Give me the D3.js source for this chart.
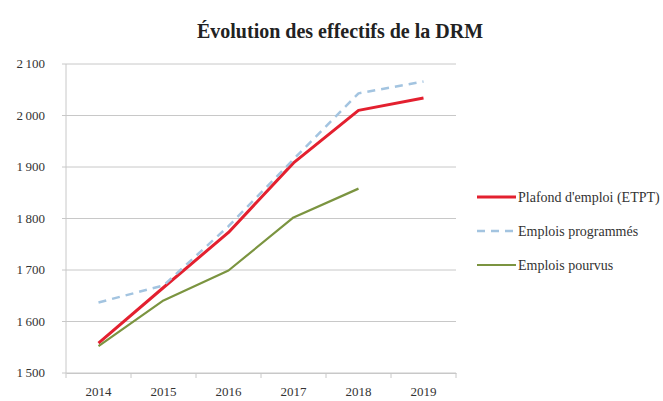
<!doctype html>
<html lang="fr">
<head>
<meta charset="UTF-8">
<title>Évolution des effectifs de la DRM</title>
<script src="https://cdn.jsdelivr.net/npm/d3@7"></script>
<style>
  body { margin: 0; background: #fff; }
</style>
</head>
<body>
<svg width="663" height="401"></svg>
<script>
  // données
  let years = ["2014", "2015", "2016", "2017", "2018", "2019"];
  let plafond = [1558, 1666, 1773, 1908, 2010, 2034];
  let programmes = [1637, 1670, 1785, 1915, 2043, 2066];
  let pourvus = [1552, 1641, 1699, 1802, 1858];
  let yTicks = [1500, 1600, 1700, 1800, 1900, 2000, 2100];

  let series = [
    { name: "Plafond d'emploi (ETPT)", values: plafond, color: "#e3202f", width: 3, dash: null },
    { name: "Emplois programmés", values: programmes, color: "#a3c4e0", width: 2.5, dash: "8,6" },
    { name: "Emplois pourvus", values: pourvus, color: "#7b9440", width: 2.2, dash: null }
  ];

  let font = "'Liberation Serif', 'Times New Roman', serif";
  let grid = { left: 66, right: 456, top: 64, bottom: 373 };
  let svg = d3.select("svg");

  let x = d3.scaleBand().domain(years).range([grid.left, grid.right]);
  let y = d3.scaleLinear().domain([1500, 2100]).range([grid.bottom, grid.top]);
  let fmt = d => d3.format(",")(d).replace(",", "\u2009");

  // titre
  svg.append("text")
    .attr("x", 340).attr("y", 38)
    .attr("text-anchor", "middle")
    .attr("font-family", font)
    .attr("font-size", 20).attr("font-weight", "bold").attr("fill", "#222")
    .text("Évolution des effectifs de la DRM");

  // lignes de grille
  svg.append("g").selectAll("line").data(yTicks).enter().append("line")
    .attr("x1", grid.left - 4).attr("x2", grid.right)
    .attr("y1", d => y(d)).attr("y2", d => y(d))
    .attr("stroke", "#c8c8c8").attr("stroke-width", 1);

  // axe vertical
  svg.append("line")
    .attr("x1", grid.left).attr("x2", grid.left)
    .attr("y1", grid.top).attr("y2", grid.bottom)
    .attr("stroke", "#c8c8c8");

  svg.append("g").selectAll("text").data(yTicks).enter().append("text")
    .attr("x", grid.left - 21).attr("y", d => y(d) + 4)
    .attr("text-anchor", "end")
    .attr("font-family", font).attr("font-size", 13).attr("fill", "#333")
    .text(fmt);

  // axe horizontal
  let xAxis = d3.axisBottom(x).tickSize(0).tickSizeOuter(0);
  let gx = svg.append("g")
    .attr("transform", "translate(0," + grid.bottom + ")")
    .attr("font-family", font).attr("font-size", 13)
    .call(xAxis);
  gx.attr("font-family", font).attr("font-size", 13);
  gx.select(".domain").attr("stroke", "#c8c8c8");
  gx.selectAll("text").attr("dy", "1.5em").attr("fill", "#333");
  svg.append("g").selectAll("line").data(years).enter().append("line")
    .attr("x1", d => x(d) + x.bandwidth()).attr("x2", d => x(d) + x.bandwidth())
    .attr("y1", grid.bottom).attr("y2", grid.bottom + 5)
    .attr("stroke", "#c8c8c8");
  svg.append("line")
    .attr("x1", grid.left).attr("x2", grid.left)
    .attr("y1", grid.bottom).attr("y2", grid.bottom + 5)
    .attr("stroke", "#c8c8c8");

  // courbes
  let line = d3.line()
    .x((d, i) => x(years[i]) + x.bandwidth() / 2)
    .y(d => y(d));

  series.forEach(s => {
    svg.append("path")
      .attr("d", line(s.values))
      .attr("fill", "none")
      .attr("stroke", s.color)
      .attr("stroke-width", s.width)
      .attr("stroke-dasharray", s.dash)
      .attr("stroke-linejoin", "round");
  });

  // légende
  let legend = svg.append("g").selectAll("g").data(series).enter().append("g")
    .attr("transform", (d, i) => "translate(477," + (197 + i * 34) + ")");
  legend.append("line")
    .attr("x1", 0).attr("x2", 39)
    .attr("stroke", d => d.color)
    .attr("stroke-width", d => d.width)
    .attr("stroke-dasharray", d => d.dash);
  legend.append("text")
    .attr("x", 41).attr("y", 4.5)
    .attr("font-family", font).attr("font-size", 14).attr("fill", "#333")
    .text(d => d.name);
</script>
</body>
</html>
